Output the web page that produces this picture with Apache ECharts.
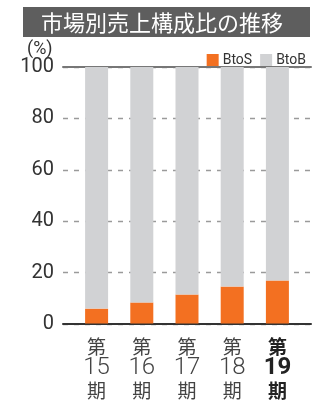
<!DOCTYPE html>
<html>
<head>
<meta charset="utf-8">
<script src="https://cdn.jsdelivr.net/npm/echarts@6/dist/echarts.min.js"></script>
<style>
html,body{margin:0;padding:0;background:#fff;}
#c{width:324px;height:400px;}
</style>
</head>
<body>
<div id="c"></div>
<script>
var title = '市場別売上構成比の推移';
var unitLabel = '(%)';
var categories = ['15', '16', '17', '18', '19'];
var btosValues = [5.8, 8.2, 11.3, 14.4, 16.8];
var btobValues = [94.2, 91.8, 88.7, 85.6, 83.2];
var yTicks = [0, 20, 40, 60, 80, 100];
var seriesNames = ['BtoS', 'BtoB'];
var colors = ['#f37021', '#d1d2d4'];

var chart = echarts.init(document.getElementById('c'), null, {renderer: 'canvas'});
var numFont = 'Roboto, "Liberation Sans", sans-serif';
var cjkFont = '"Noto Sans CJK JP", sans-serif';

var option = {
  animation: false,
  color: colors,
  textStyle: {fontFamily: numFont},
  graphic: [
    {type: 'rect', shape: {x: 23, y: 7, width: 287, height: 30}, style: {fill: '#5e5e5e'}, z: -1}
  ],
  title: [
    {text: title, left: 'center', top: 7, padding: [3, 0, 0, 0],
      textStyle: {color: '#fff', fontSize: 22, fontWeight: 'normal', fontFamily: cjkFont, lineHeight: 25}},
    {text: unitLabel, left: 27, top: 40, padding: 0,
      textStyle: {color: '#333', fontSize: 18, fontWeight: 'normal', fontFamily: numFont}}
  ],
  legend: {
    data: seriesNames,
    right: 13, top: 48,
    itemWidth: 12, itemHeight: 12, itemGap: 8,
    icon: 'rect',
    textStyle: {fontSize: 14, color: '#333', fontFamily: numFont, padding: [0, 0, 0, -1]}
  },
  grid: [
    {left: 63, right: 13, top: 67, height: 257},
    {left: 74, right: 24, top: 67, height: 257}
  ],
  xAxis: [
    {gridIndex: 0, type: 'value', min: 0, max: 1, position: 'bottom',
      axisLine: {show: true, onZero: false, lineStyle: {color: '#333', width: 2}},
      axisTick: {show: false}, axisLabel: {show: false}, splitLine: {show: false}},
    {gridIndex: 0, type: 'value', min: 0, max: 1, position: 'top',
      axisLine: {show: true, onZero: false, lineStyle: {color: '#777', width: 2}},
      axisTick: {show: false}, axisLabel: {show: false}, splitLine: {show: false}},
    {gridIndex: 1, type: 'category', data: categories,
      axisLine: {show: false}, axisTick: {show: false},
      axisLabel: {
        margin: 12,
        interval: 0,
        formatter: function (v, i) {
          if (i === categories.length - 1) {
            return '{cb|第}\n{nb|' + v + '}\n{cb|期}';
          }
          return '{c|第}\n{n|' + v + '}\n{c|期}';
        },
        rich: {
          c: {fontFamily: cjkFont, fontSize: 19, color: '#444', lineHeight: 22},
          n: {fontFamily: numFont, fontSize: 24, fontWeight: 300, color: '#444', lineHeight: 22},
          cb: {fontFamily: cjkFont, fontSize: 19, fontWeight: 'bold', color: '#222', lineHeight: 22},
          nb: {fontFamily: numFont, fontSize: 24, fontWeight: 'bold', color: '#222', lineHeight: 22}
        }
      }}
  ],
  yAxis: [
    {gridIndex: 0, type: 'value', min: 0, max: 100, interval: 20,
      axisLine: {show: false}, axisTick: {show: false},
      axisLabel: {fontSize: 20, color: '#333', margin: 9, fontFamily: numFont},
      splitLine: {show: true, lineStyle: {color: '#9a9a9a', type: [5, 6], width: 1.3}}},
    {gridIndex: 1, type: 'value', min: 0, max: 100, show: false}
  ],
  series: [
    {name: seriesNames[0], type: 'bar', stack: 's', xAxisIndex: 2, yAxisIndex: 1, barWidth: 23, data: btosValues, z: 3},
    {name: seriesNames[1], type: 'bar', stack: 's', xAxisIndex: 2, yAxisIndex: 1, barWidth: 23, data: btobValues, z: 3}
  ]
};
chart.setOption(option);
</script>
</body>
</html>
